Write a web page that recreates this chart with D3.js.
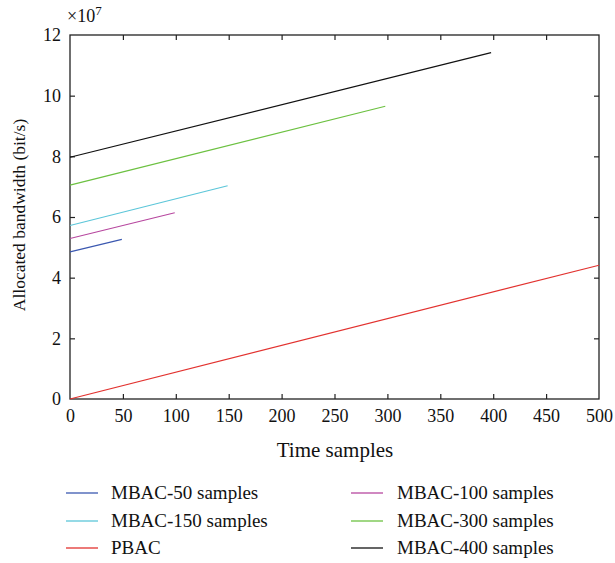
<!DOCTYPE html>
<html><head><meta charset="utf-8">
<script src="https://d3js.org/d3.v7.min.js"></script>
<style>
body{margin:0;background:#fff;}
text{font-family:"Liberation Serif","DejaVu Serif",serif;fill:#111;}
</style></head>
<body>
<svg id="c" width="615" height="563"></svg>
<script>
const seriesNames = ["MBAC-50 samples","MBAC-100 samples","MBAC-150 samples","MBAC-300 samples","PBAC","MBAC-400 samples"];
const seriesColors = ["#3b58b0","#b7479f","#5cc6d9","#6cc141","#e2322f","#111111"];
const mbac50 = [[0,4.85],[49,5.26]];
const mbac100 = [[0,5.29],[99,6.14]];
const mbac150 = [[0,5.72],[149,7.03]];
const mbac300 = [[0,7.05],[298,9.65]];
const pbac = [[0,0.0],[500,4.41]];
const mbac400 = [[0,7.97],[398,11.42]];
const seriesData = [mbac50,mbac100,mbac150,mbac300,pbac,mbac400];
const xTicks = [0,50,100,150,200,250,300,350,400,450,500];
const yTicks = [0,2,4,6,8,10,12];
const legendLeft = [0,2,4];
const legendRight = [1,3,5];

const svg = d3.select("#c");
const L=70,R=599,T=35,B=399;
const x = d3.scaleLinear().domain([0,500]).range([L,R]);
const y = d3.scaleLinear().domain([0,12]).range([B,T]);

svg.append("rect").attr("x",L).attr("y",T).attr("width",R-L).attr("height",B-T)
  .attr("fill","none").attr("stroke","#222").attr("stroke-width",1.3);

const xa = svg.append("g").attr("transform",`translate(0,${B})`)
  .call(d3.axisBottom(x).tickValues(xTicks).tickSize(-5).tickPadding(10).tickFormat(d3.format("d")));
const xt = svg.append("g").attr("transform",`translate(0,${T})`)
  .call(d3.axisTop(x).tickValues(xTicks).tickSize(-5).tickFormat(""));
const ya = svg.append("g").attr("transform",`translate(${L},0)`)
  .call(d3.axisLeft(y).tickValues(yTicks).tickSize(-5).tickPadding(9).tickFormat(d3.format("d")));
const yr = svg.append("g").attr("transform",`translate(${R},0)`)
  .call(d3.axisRight(y).tickValues(yTicks).tickSize(-5).tickFormat(""));
[xa,xt,ya,yr].forEach(g=>{
  g.select(".domain").remove();
  g.selectAll(".tick line").attr("stroke","#222").attr("stroke-width",1.2);
  g.selectAll(".tick text").style("font-family","Liberation Serif, serif").style("font-size","18px").attr("fill","#111");
});
xa.selectAll(".tick line").filter(d=>d===0||d===500).remove();
xt.selectAll(".tick line").filter(d=>d===0||d===500).remove();
ya.selectAll(".tick line").filter(d=>d===0||d===12).remove();
yr.selectAll(".tick line").filter(d=>d===0||d===12).remove();

const line = d3.line().x(d=>x(d[0])).y(d=>y(d[1]));
seriesData.forEach((s,i)=>{
  svg.append("path").datum(s).attr("d",line).attr("fill","none")
    .attr("stroke",seriesColors[i]).attr("stroke-width",1.2);
});

const ex = svg.append("text").attr("x",67).attr("y",22).style("font-size","18px");
ex.append("tspan").text("×10");
ex.append("tspan").attr("dy",-7).style("font-size","13px").text("7");

svg.append("text").attr("x",335).attr("y",457).attr("text-anchor","middle")
  .style("font-size","21px").text("Time samples");
svg.append("text").attr("transform",`translate(25,215) rotate(-90)`).attr("text-anchor","middle")
  .style("font-size","17.5px").text("Allocated bandwidth (bit/s)");

const rows=[493,521,548];
function leg(idxs,lx,tx){
  idxs.forEach((k,j)=>{
    svg.append("line").attr("x1",lx).attr("x2",lx+32).attr("y1",rows[j]).attr("y2",rows[j])
      .attr("stroke",seriesColors[k]).attr("stroke-width",1.3);
    svg.append("text").attr("x",tx).attr("y",rows[j]+6).style("font-size","19px").text(seriesNames[k]);
  });
}
leg(legendLeft,66,111);
leg(legendRight,351,397);
</script>
</body></html>
